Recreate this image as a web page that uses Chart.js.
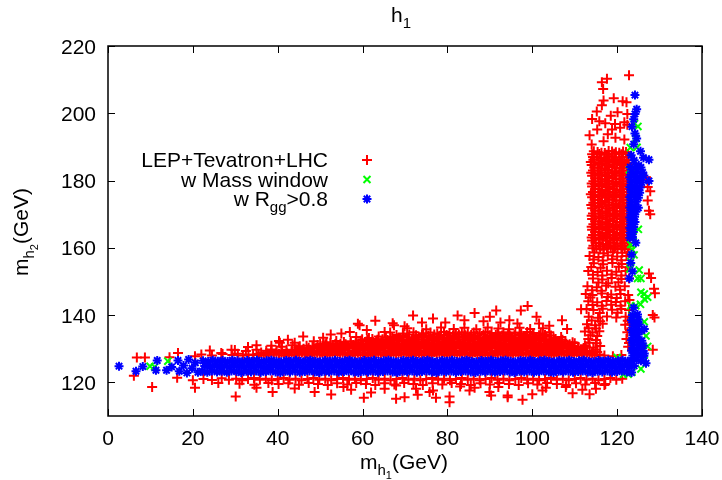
<!DOCTYPE html>
<html lang="en">
<head>
<meta charset="UTF-8" />
<title>h1 - m_h1 vs m_h2</title>
<script src="https://cdn.jsdelivr.net/npm/chart.js"></script>
<style>
  html, body { margin: 0; padding: 0; background: #fff; }
  #wrap { width: 722px; height: 480px; }
</style>
</head>
<body>
<div id="wrap"><canvas id="scanChart" width="722" height="480"></canvas></div>
<script>
// axes
const xTicks = [0, 20, 40, 60, 80, 100, 120, 140];
const yTicks = [120, 140, 160, 180, 200, 220];
const xRange = [0, 140];
const yRange = [110, 220];

// legend labels: [text, level] (0 = normal, 1 = subscript)
const legendLabels = [
  [["LEP+Tevatron+LHC", 0]],
  [["w Mass window", 0]],
  [["w R", 0], ["gg", 1], [">0.8", 0]]
];

// LEP+Tevatron+LHC (red +), upper edge of the band
const lepBandUpper = [
  [22,128.3],[24.5,128.0],[27,128.4],[29.3,128.1],[30.6,128.5],[31.8,128.0],[33.1,128.3],[34.2,128.1],[35.5,128.4],[36.7,128.0],
  [37.9,128.3],[39.1,128.2],[40.3,128.5],[41.5,128.0],[42.7,128.3],[43.9,128.1],[45.1,128.4],[46.3,128.2],[47.5,128.0],[48.7,128.4],
  [49.9,128.2],[51.1,128.0],[52.3,128.3],[53.5,128.1],[54.7,128.5],[55.9,128.2],[57.1,128.0],[58.3,128.4],[59.5,128.1],[60.7,128.3],
  [61.9,128.0],[63.1,128.4],[64.3,128.2],[65.5,128.0],[66.7,128.3],[67.9,128.1],[69.1,128.5],[70.3,128.2],[71.5,128.0],[72.7,128.4],
  [73.9,128.1],[75.1,128.3],[76.3,128.0],[77.5,128.4],[78.7,128.2],[79.9,128.0],[81.1,128.3],[82.3,128.1],[83.5,128.5],[84.7,128.2],
  [85.9,128.0],[87.1,128.4],[88.3,128.1],[89.5,128.3],[90.7,128.0],[91.9,128.4],[93.1,128.2],[94.3,128.0],[95.5,128.3],[96.7,128.1],
  [97.9,128.5],[99.1,128.2],[100.3,128.0],[101.5,128.4],[102.7,128.1],[103.9,128.3],[105.1,128.0],[106.3,128.4],[107.5,128.2],[108.7,128.0],
  [109.9,128.3],[111.1,128.1],[112.3,128.4],[113.5,128.2],[114.7,128.0],[115.9,128.3],[117,128.0],[119,127.8],[121,128.1],
  [29.9,129.6],[32.5,129.3],[35,129.7],[37.3,129.4],[38.5,129.8],[39.7,129.5],[40.9,129.3],[42.1,129.7],[43.3,129.4],[44.5,129.6],
  [45.7,129.3],[46.9,129.8],[48.1,129.5],[49.3,129.3],[50.5,129.7],[51.7,129.4],[52.9,129.6],[54.1,129.3],[55.3,129.8],[56.5,129.5],
  [57.7,129.3],[58.9,129.7],[60.1,129.4],[61.3,129.6],[62.5,129.3],[63.7,129.8],[64.9,129.5],[66.1,129.3],[67.3,129.7],[68.5,129.4],
  [69.7,129.6],[70.9,129.3],[72.1,129.8],[73.3,129.5],[74.5,129.3],[75.7,129.7],[76.9,129.4],[78.1,129.6],[79.3,129.3],[80.5,129.8],
  [81.7,129.5],[82.9,129.3],[84.1,129.7],[85.3,129.4],[86.5,129.6],[87.7,129.3],[88.9,129.8],[90.1,129.5],[91.3,129.3],[92.5,129.7],
  [93.7,129.4],[94.9,129.6],[96.1,129.3],[97.3,129.8],[98.5,129.5],[99.7,129.3],[100.9,129.7],[102.1,129.4],[103.3,129.6],[104.5,129.3],
  [105.7,129.8],[106.9,129.5],[108.1,129.3],[109.3,129.7],[110.5,129.4],[111.7,129.6],[113.5,129.3],[114.9,129.7],
  [38.5,130.9],[41,130.6],[43.5,131.0],[45.2,130.7],[46.8,130.9],[48.2,130.6],[49.4,131.1],[50.6,130.8],[51.8,130.6],[53,131.0],
  [54.2,130.7],[55.4,130.9],[56.6,130.6],[57.8,131.1],[59,130.8],[60.2,130.6],[61.4,131.0],[62.6,130.7],[63.8,130.9],[65,130.6],
  [66.2,131.1],[67.4,130.8],[68.6,130.6],[69.8,131.0],[71,130.7],[72.2,130.9],[73.4,130.6],[74.6,131.1],[75.8,130.8],[77,130.6],
  [78.2,131.0],[79.4,130.7],[80.6,130.9],[81.8,130.6],[83,131.1],[84.2,130.8],[85.4,130.6],[86.6,131.0],[87.8,130.7],[89,130.9],
  [90.2,130.6],[91.4,131.1],[92.6,130.8],[93.8,130.6],[95,131.0],[96.2,130.7],[97.4,130.9],[98.6,130.6],[99.8,131.1],[101,130.8],
  [102.2,130.6],[103.4,131.0],[104.6,130.7],[105.8,130.9],[107,130.6],[108.2,131.1],[109.4,130.8],[110.8,130.6],[112.4,131.0],
  [48.5,132.2],[51.5,131.9],[53.8,132.3],[55.6,132.0],[57.2,132.2],[58.4,131.9],[59.6,132.4],[60.8,132.1],[62,131.9],[63.2,132.3],
  [64.4,132.0],[65.6,132.2],[66.8,131.9],[68,132.4],[69.2,132.1],[70.4,131.9],[71.6,132.3],[72.8,132.0],[74,132.2],[75.2,131.9],
  [76.4,132.4],[77.6,132.1],[78.8,131.9],[80,132.3],[81.2,132.0],[82.4,132.2],[83.6,131.9],[84.8,132.4],[86,132.1],[87.2,131.9],
  [88.4,132.3],[89.6,132.0],[90.8,132.2],[92,131.9],[93.2,132.4],[94.4,132.1],[95.6,131.9],[96.8,132.3],[98,132.0],[99.2,132.2],
  [100.4,131.9],[101.6,132.4],[102.8,132.1],[104,131.9],[105.2,132.3],[106.4,132.0],[107.8,132.2],[109.5,131.9],
  [58.5,133.5],[61.5,133.2],[63.8,133.6],[65.5,133.3],[67,133.5],[68.4,133.2],[69.6,133.7],[70.8,133.4],[72,133.2],[73.2,133.6],
  [74.4,133.3],[75.6,133.5],[76.8,133.2],[78,133.7],[79.2,133.4],[80.4,133.2],[81.6,133.6],[82.8,133.3],[84,133.5],[85.2,133.2],
  [86.4,133.7],[87.6,133.4],[88.8,133.2],[90,133.6],[91.2,133.3],[92.4,133.5],[93.6,133.2],[94.8,133.7],[96,133.4],[97.2,133.2],
  [98.4,133.6],[99.6,133.3],[100.8,133.5],[102,133.2],[103.4,133.6],[105,133.3],[106.8,133.5],
  [66.5,134.8],[69.5,134.5],[72,134.9],[74.3,134.6],[76,134.8],[77.6,134.5],[79.2,135.0],[80.5,134.7],[82,134.5],[83.4,134.9],
  [84.8,134.6],[86.2,134.8],[87.6,134.5],[89,135.0],[90.4,134.7],[91.8,134.5],[93.2,134.9],[94.6,134.6],[96,134.8],[97.4,134.5],
  [98.8,135.0],[100.3,134.7],[102,134.5],[104,134.9],
  [70.5,136.1],[75,135.8],[78.5,136.3],[81.5,135.9],[84,136.2],[86.8,135.8],[89.5,136.3],[92,136.0],[94.5,135.8],[97,136.2],
  [99.5,135.9],[102.5,136.1]
];

// LEP+Tevatron+LHC, points filling the dense part above the band
const lepBandFill = [
  [36.1,128.9],[37.3,128.7],[38.5,129.0],[39.7,128.8],[40.9,128.9],[42.1,128.7],[43.3,129.0],[44.5,128.8],[45.7,128.9],[46.9,128.7],
  [48.1,129.0],[49.3,128.8],[50.5,128.9],[51.7,128.7],[52.9,129.0],[54.1,128.8],[55.3,128.9],[56.5,128.7],[57.7,129.0],[58.9,128.8],
  [60.1,128.9],[61.3,128.7],[62.5,129.0],[63.7,128.8],[64.9,128.9],[66.1,128.7],[67.3,129.0],[68.5,128.8],[69.7,128.9],[70.9,128.7],
  [72.1,129.0],[73.3,128.8],[74.5,128.9],[75.7,128.7],[76.9,129.0],[78.1,128.8],[79.3,128.9],[80.5,128.7],[81.7,129.0],[82.9,128.8],
  [84.1,128.9],[85.3,128.7],[86.5,129.0],[87.7,128.8],[88.9,128.9],[90.1,128.7],[91.3,129.0],[92.5,128.8],[93.7,128.9],[94.9,128.7],
  [96.1,129.0],[97.3,128.8],[98.5,128.9],[99.7,128.7],[100.9,129.0],[102.1,128.8],[103.3,128.9],[104.5,128.7],[105.7,129.0],[106.9,128.8],
  [108.1,128.9],[109.3,128.7],[110.5,129.0],[111.7,128.8],[112.9,128.9],[114.1,128.7],[115.3,129.0],
  [44.9,130.2],[46.1,130.0],[47.3,130.3],[48.5,130.1],[49.7,130.2],[50.9,130.0],[52.1,130.3],[53.3,130.1],[54.5,130.2],[55.7,130.0],
  [56.9,130.3],[58.1,130.1],[59.3,130.2],[60.5,130.0],[61.7,130.3],[62.9,130.1],[64.1,130.2],[65.3,130.0],[66.5,130.3],[67.7,130.1],
  [68.9,130.2],[70.1,130.0],[71.3,130.3],[72.5,130.1],[73.7,130.2],[74.9,130.0],[76.1,130.3],[77.3,130.1],[78.5,130.2],[79.7,130.0],
  [80.9,130.3],[82.1,130.1],[83.3,130.2],[84.5,130.0],[85.7,130.3],[86.9,130.1],[88.1,130.2],[89.3,130.0],[90.5,130.3],[91.7,130.1],
  [92.9,130.2],[94.1,130.0],[95.3,130.3],[96.5,130.1],[97.7,130.2],[98.9,130.0],[100.1,130.3],[101.3,130.1],[102.5,130.2],[103.7,130.0],
  [104.9,130.3],[106.1,130.1],[107.3,130.2],[108.5,130.0],[109.7,130.3],[110.9,130.1],[112.1,130.2],
  [50.0,131.5],[51.2,131.3],[52.4,131.6],[53.6,131.4],[54.8,131.5],[56.0,131.3],[57.2,131.6],[58.4,131.4],[59.6,131.5],[60.8,131.3],
  [62.0,131.6],[63.2,131.4],[64.4,131.5],[65.6,131.3],[66.8,131.6],[68.0,131.4],[69.2,131.5],[70.4,131.3],[71.6,131.6],[72.8,131.4],
  [74.0,131.5],[75.2,131.3],[76.4,131.6],[77.6,131.4],[78.8,131.5],[80.0,131.3],[81.2,131.6],[82.4,131.4],[83.6,131.5],[84.8,131.3],
  [86.0,131.6],[87.2,131.4],[88.4,131.5],[89.6,131.3],[90.8,131.6],[92.0,131.4],[93.2,131.5],[94.4,131.3],[95.6,131.6],[96.8,131.4],
  [98.0,131.5],[99.2,131.3],[100.4,131.6],[101.6,131.4],[102.8,131.5],[104.0,131.3],[105.2,131.6],[106.4,131.4],[107.6,131.5],[108.8,131.3],
  [110.0,131.6],
  [59.9,132.8],[61.1,132.6],[62.3,132.9],[63.5,132.7],[64.7,132.8],[65.9,132.6],[67.1,132.9],[68.3,132.7],[69.5,132.8],[70.7,132.6],
  [71.9,132.9],[73.1,132.7],[74.3,132.8],[75.5,132.6],[76.7,132.9],[77.9,132.7],[79.1,132.8],[80.3,132.6],[81.5,132.9],[82.7,132.7],
  [83.9,132.8],[85.1,132.6],[86.3,132.9],[87.5,132.7],[88.7,132.8],[89.9,132.6],[91.1,132.9],[92.3,132.7],[93.5,132.8],[94.7,132.6],
  [95.9,132.9],[97.1,132.7],[98.3,132.8],[99.5,132.6],[100.7,132.9],[101.9,132.7],[103.1,132.8],[104.3,132.6],[105.5,132.9],[107.1,132.7],
  [68.0,134.1],[69.6,133.9],[71.0,134.2],[72.6,134.0],[74.0,134.1],[75.5,133.9],[76.9,134.2],[78.4,134.0],[79.8,134.1],[81.3,133.9],
  [82.7,134.2],[84.2,134.0],[85.6,134.1],[87.1,133.9],[88.5,134.2],[90.0,134.0],[91.4,134.1],[92.9,133.9],[94.3,134.2],[95.8,134.0],
  [97.2,134.1],[98.7,133.9],[100.1,134.2],[101.6,134.0],[103.0,134.1],[104.4,133.9]
];

// LEP+Tevatron+LHC, lower edge of the band
const lepBandLower = [
  [22.5,121.0],[24.5,120.7],[26.8,121.2],[28.5,120.8],[30.2,121.1],[31.6,120.6],[33,121.0],[34.4,121.3],[35.8,120.8],[37.2,121.1],
  [38.6,120.6],[40,121.0],[41.4,121.3],[42.8,120.8],[44.2,121.1],[45.6,120.6],[47,121.0],[48.4,121.3],[49.8,120.8],[51.2,121.1],
  [52.6,120.6],[54,121.0],[55.4,121.3],[56.8,120.8],[58.2,121.1],[59.6,120.6],[61,121.0],[62.4,121.3],[63.8,120.8],[65.2,121.1],
  [66.6,120.6],[68,121.0],[69.4,121.3],[70.8,120.8],[72.2,121.1],[73.6,120.6],[75,121.0],[76.4,121.3],[77.8,120.8],[79.2,121.1],
  [80.6,120.6],[82,121.0],[83.4,121.3],[84.8,120.8],[86.2,121.1],[87.6,120.6],[89,121.0],[90.4,121.3],[91.8,120.8],[93.2,121.1],
  [94.6,120.6],[96,121.0],[97.4,121.3],[98.8,120.8],[100.2,121.1],[101.6,120.6],[103,121.0],[104.4,121.3],[105.8,120.8],[107.2,121.1],
  [108.6,120.6],[110,121.0],[111.4,121.3],[112.8,120.8],[114.2,121.1],[115.6,120.6],[117,121.0],[118.4,121.3],[119.8,120.8],[121.2,121.1],
  [31,119.6],[34.5,119.3],[37.8,119.8],[40.2,119.5],[42.5,119.7],[45,119.3],[47.3,119.8],[49.5,119.5],[51.8,119.2],[54,119.7],
  [56.4,119.4],[58.5,119.8],[60.8,119.5],[63,119.2],[65.2,119.7],[67.5,119.4],[69.8,119.8],[72,119.5],[74.2,119.2],[76.5,119.7],
  [78.8,119.4],[81,119.8],[83.2,119.5],[85.5,119.2],[87.8,119.7],[90,119.4],[92.2,119.8],[94.5,119.5],[96.8,119.2],[99,119.7],
  [101.2,119.4],[103.5,119.8],[105.8,119.5],[108,119.2],[110.3,119.7],[112.5,119.4],[114.8,119.8],[117.2,119.5]
];

// LEP+Tevatron+LHC, scattered points around the band
const lepScatter = [
  [98.9,142.7],[91.5,141.4],[86.4,140.6],[82.4,139.9],[71.9,139.9],[76.6,139],[97.3,141.4],[94.6,138.5],[101.6,137.5],[59.3,137],
  [67.4,137],[69.9,136.7],[50.7,133.3],[42.4,132.7],[40.3,132.3],[57,135],[65.2,135],[58.9,137.4],[40.5,131.8],[29.1,129.7],
  [16.5,128.7],[26.7,128.7],[67.1,137.6],[111.5,141.7],[107,138.5],[108.2,135.9],[6.8,127.4],[8.7,127.4],[20.5,127.8],[63,138.3],
  [88.5,138.2],[79.5,137.8],[104,136.8],[55,134.5],[46,133.6],[35,131],[33,130.5],[24,129.5],[90,139.5],[84,138.5],
  [74,137.8],[96.5,137.5],[101,139.5],[92.5,137.8],[61,135.6],[52.5,134.2],[44,131.8],
  [69.9,115.6],[77.3,115.4],[80.5,114.1],[90.3,116.1],[94.2,115.6],[97.7,114.8],[76.6,117.6],[86.4,118.4],[103.2,118.4],[38.8,117.1],
  [48.7,117.1],[52.6,116.4],[60.3,115.4],[67.9,115.1],[35,118.4],[57.3,117.8],[65.2,118.1],[10.4,118.6],[20.5,118.4],[30.1,115.8],
  [67.9,119.1],[72.6,118.1],[75.8,117.1],[80.5,115.8],[85.2,117.6],[89.9,117.1],[94.2,116.1],[102.4,117.6],[107.9,118.6],[111.8,117.8],
  [115,118.1],[6.1,122],[20,120.6],[44,118.2],[62,117],[83,118.8],[100,116.5],[109.5,116.8],[117,119.2],[113.5,116.5],
  [55.5,118.6],[92,118.6],[73,116.3],[26,119.8],[16.3,121.4],[14.5,127.5]
];

// LEP+Tevatron+LHC, vertical strip near m_h1 ~ 118
const lepStrip = [
  [122.8,211.3],[117.6,210.3],[116.4,209.2],[116.7,207.2],[116.8,203.8],[121.3,203.6],[116.4,202.4],[115.2,200.5],[114.1,198.3],[118.5,199.3],
  [120.1,200.3],[121.7,197.3],[115.3,195.2],[118.8,195.2],[120.7,195.7],[114,190.7],[116.8,191.7],[119.6,192.7],[121.7,192.2],[117.2,197],
  [119.5,196.8],[113.5,193.5],[122.4,199.8],[117.8,193.8],[115.8,197.6],[119.2,204.5],[122.2,203.3],[122.4,196.6],
  [114.5,188.7],[116.3,188.3],[118,188.8],[119.7,188.4],[121.4,188.6],
  [115.2,187.1],[117,186.8],[118.8,187.2],[120.5,186.9],[122.2,187.0],
  [113.8,185.5],[115.6,185.2],[117.4,185.6],[119.1,185.3],[120.9,185.5],[122.4,185.2],
  [114.6,183.9],[116.3,183.6],[118,184.0],[119.8,183.7],[121.5,183.9],
  [113.9,182.3],[115.5,182.0],[117.2,182.4],[118.9,182.1],[120.6,182.3],[122.3,182.0],
  [114.8,180.7],[116.4,180.4],[118.1,180.8],[119.8,180.5],[121.4,180.7],
  [114,179.1],[115.6,178.8],[117.3,179.2],[119,178.9],[120.7,179.1],[122.3,178.8],
  [114.8,177.5],[116.5,177.2],[118.2,177.6],[119.9,177.3],[121.5,177.5],
  [113.8,175.9],[115.6,175.6],[117.3,176.0],[119,175.7],[120.7,175.9],[122.4,175.6],
  [114.7,174.3],[116.4,174.0],[118.1,174.4],[119.8,174.1],[121.5,174.3],
  [113.9,172.7],[115.6,172.4],[117.3,172.8],[119,172.5],[120.7,172.7],[122.3,172.4],
  [114.8,171.1],[116.5,170.8],[118.2,171.2],[119.9,170.9],[121.6,171.1],
  [114,169.5],[115.7,169.2],[117.4,169.6],[119.1,169.3],[120.8,169.5],[122.4,169.2],
  [114.8,167.9],[116.5,167.6],[118.2,168.0],[119.9,167.7],[121.6,167.9],
  [114,166.3],[115.7,166.0],[117.4,166.4],[119.1,166.1],[120.8,166.3],[122.4,166.0],
  [114.8,164.7],[116.5,164.4],[118.2,164.8],[119.9,164.5],[121.6,164.7],
  [114,163.1],[115.7,162.8],[117.4,163.2],[119.1,162.9],[120.8,163.1],[122.4,162.8],
  [114.9,161.5],[116.6,161.2],[118.3,161.6],[120,161.3],[121.7,161.5],
  [114.2,159.9],[116,159.6],[117.6,160.0],[119.3,159.7],[121,159.9],[122.5,159.6],
  [113.5,157.6],[115.6,157.3],[117.8,157.7],[120,157.4],[122.2,157.6],
  [114.5,155.4],[116.7,155.1],[118.9,155.5],[121.1,155.2],
  [113.2,153.1],[115.4,152.8],[117.6,153.2],[119.8,152.9],[122,153.1],
  [114.3,150.9],[116.5,150.6],[118.7,151.0],[121,150.7],[122.8,150.9],
  [113,148.6],[115.2,148.3],[117.4,148.7],[119.6,148.4],[121.8,148.6],
  [112.6,146.3],[114.2,146.0],[116.4,146.4],[118.6,146.1],[120.8,146.3],[122.6,146.0],
  [113.2,144.1],[115.3,143.8],[117.5,144.2],[119.7,143.9],[121.9,144.1],
  [112.8,141.8],[114.4,141.5],[116.6,141.9],[118.8,141.6],[121,141.8],[122.8,141.5],
  [113.3,139.5],[115.5,139.2],[117.6,139.6],[119.8,139.3],[122,139.5],
  [112.9,137.3],[114.8,137.0],[116.6,137.4],[121.9,137.1],[123,137.3],
  [112.4,135.1],[114.2,134.8],[115.8,135.2],[122.4,134.9],
  [113.2,132.9],[115,132.6],[122.2,132.9],
  [112.6,130.7],[114.4,130.4],[116,130.8],[122.6,130.6],
  [127.8,176.8],[127.2,178.1],[127.2,174.1],[127.5,171],[127.5,152.4],[128.7,147.8],[128.4,140],[128.8,139.3],[128.4,129.7],[128,151],
  [128.9,146.5],[126.8,181],[127.8,170]
];

// LEP+Tevatron+LHC, points filling the dense part of the strip
const lepStripFill = [
  [115.4,188.5],[117.1,188.2],[118.8,188.6],[120.5,188.3],[122.1,188.5],
  [114.3,187.0],[116.1,186.7],[117.9,187.1],[119.6,186.8],[121.3,187.0],
  [114.7,185.4],[116.5,185.1],[118.2,185.5],[120,185.2],[121.7,185.4],
  [115.4,183.8],[117.1,183.5],[118.9,183.9],[120.6,183.6],[122.3,183.8],
  [114.7,182.2],[116.3,181.9],[118,182.3],[119.7,182],[121.4,182.2],
  [115.6,180.6],[117.2,180.3],[118.9,180.7],[120.6,180.4],[122.2,180.6],
  [114.8,179.0],[116.4,178.7],[118.1,179.1],[119.8,178.8],[121.5,179.0],
  [115.6,177.4],[117.3,177.1],[119,177.5],[120.7,177.2],[122.3,177.4],
  [114.7,175.8],[116.4,175.5],[118.1,175.9],[119.8,175.6],[121.5,175.8],
  [115.5,174.2],[117.2,173.9],[118.9,174.3],[120.6,174],[122.2,174.2],
  [114.7,172.6],[116.4,172.3],[118.1,172.7],[119.8,172.4],[121.5,172.6],
  [115.6,171.0],[117.3,170.7],[119,171.1],[120.7,170.8],[122.3,171.0],
  [114.8,169.4],[116.5,169.1],[118.2,169.5],[119.9,169.2],[121.6,169.4],
  [115.6,167.8],[117.3,167.5],[119,167.9],[120.7,167.6],[122.3,167.8],
  [114.8,166.2],[116.5,165.9],[118.2,166.3],[119.9,166],[121.6,166.2],
  [115.6,164.6],[117.3,164.3],[119,164.7],[120.7,164.4],[122.3,164.6],
  [114.8,163.0],[116.5,162.7],[118.2,163.1],[119.9,162.8],[121.6,163.0],
  [115.7,161.4],[117.4,161.1],[119.1,161.5],[120.8,161.2],[122.4,161.4],
  [115.1,159.8],[116.8,159.5],[118.5,159.9],[120.1,159.6],[121.8,159.8],
  [114.4,156.5],[116.6,156.2],[118.8,156.6],[121,156.3],[114.3,152],[116.5,151.8],[118.7,152.1],[121,151.8],
  [114.1,147.4],[116.3,147.2],[120.7,147.5],[114.2,143],[116.4,142.8],[118.6,143.1],[120.8,142.8],[122.9,144.5],
  [114,138.4],[116,138.2],[122.5,138.3],[113.3,136.1],[115,136],[113.5,131.8],[115.2,131.6],[122.8,131.7],
  [113.7,134],[115.3,133.8],[123,135.6]
];

// LEP+Tevatron+LHC, extra points between the strip rows
const lepStripMid = [
  [114.1,187.8],[115.8,187.9],[117.6,187.7],[119.3,188.0],[121.0,187.8],[122.6,187.9],
  [114.4,186.2],[116.2,186.0],[117.8,186.3],[119.5,186.1],[121.2,186.2],[122.7,186.0],
  [114.0,184.6],[115.9,184.8],[117.6,184.5],[119.4,184.7],[121.1,184.6],[122.6,184.8],
  [114.3,183.0],[116.0,182.9],[117.8,183.1],[119.5,182.8],[121.2,183.0],[122.7,182.9],
  [114.1,181.4],[115.9,181.6],[117.6,181.3],[119.3,181.5],[121.0,181.4],[122.6,181.6],
  [114.4,179.8],[116.1,179.7],[117.9,179.9],[119.6,179.6],[121.3,179.8],[122.7,179.7],
  [114.1,178.2],[115.8,178.4],[117.6,178.1],[119.3,178.3],[121.0,178.2],[122.6,178.4],
  [114.3,176.6],[116.0,176.5],[117.8,176.7],[119.5,176.4],[121.2,176.6],[122.7,176.5],
  [114.1,175.0],[115.9,175.2],[117.6,174.9],[119.3,175.1],[121.0,175.0],[122.6,175.2],
  [114.4,173.4],[116.1,173.3],[117.9,173.5],[119.6,173.2],[121.3,173.4],[122.7,173.3],
  [114.1,171.8],[115.8,172.0],[117.6,171.7],[119.3,171.9],[121.0,171.8],[122.6,172.0],
  [114.3,170.2],[116.0,170.1],[117.8,170.3],[119.5,170.0],[121.2,170.2],[122.7,170.1],
  [114.1,168.6],[115.9,168.8],[117.6,168.5],[119.3,168.7],[121.0,168.6],[122.6,168.8],
  [114.4,167.0],[116.1,166.9],[117.9,167.1],[119.6,166.8],[121.3,167.0],[122.7,166.9],
  [114.1,165.4],[115.8,165.6],[117.6,165.3],[119.3,165.5],[121.0,165.4],[122.6,165.6],
  [114.3,163.8],[116.0,163.7],[117.8,163.9],[119.5,163.6],[121.2,163.8],[122.7,163.7],
  [114.1,162.2],[115.9,162.4],[117.6,162.1],[119.3,162.3],[121.0,162.2],[122.6,162.4],
  [114.4,160.6],[116.1,160.5],[117.9,160.7],[119.6,160.4],[121.3,160.6],[122.7,160.5],
  [114.6,158.6],[116.8,158.4],[119.0,158.7],[121.2,158.5],[113.9,154.3],[116.1,154.1],[120.4,154.4],[122.5,154.2],
  [115.6,149.7],[117.9,149.5],[120.3,149.8],[113.7,145.2],[117.8,145.4],[119.9,145.1],[115.9,140.6],[120.1,140.7]
];

// w Mass window (green x)
const massWindowPts = [
  [124.1,196.9],[124.9,196.1],[123.1,189.8],[124.7,189.9],[122.9,183.2],[123.9,182.6],[123.2,161],[123.6,159.4],[124,157.9],[123.2,155.9],
  [123,153.7],[124.8,150.9],[125.6,150.9],[125.2,153.4],[125.6,146.8],[126.4,144.8],[123.2,142.8],[124.4,142.8],[126.4,146.3],[127.2,145.3],
  [125.5,143.2],[123.5,140],[126.4,138],[126.8,133.8],[127.2,130.7],[126.4,126.5],[123.5,123],[122.6,122.4],[9.9,124.8],[11,124.6],
  [14.1,126.3],[124.4,192.5],[125,165.5],[123.8,163.5],[124.6,129],[125.6,124],[121.5,122.4],[120,127.4]
];

// w R_gg>0.8 (blue *), low-mass tail
const rggLeft = [
  [2.6,124.8],[6.6,123.3],[8.2,124.7],[11.6,126.5],[11.3,123.6],[13.8,123.6],[15,124.6],[16.5,126.5],[16.8,123.3],[17.8,125],
  [18.6,122.8],[19,126.8],[19.8,124.2],[20.6,125.8],[21.2,123]
];

// w R_gg>0.8, dense band at m_h2 ~ 125
const rggBand = [
  [22.2,123.3],[23.4,123.0],[24.5,123.4],[25.7,123.1],[26.8,123.3],[28.0,123.0],[29.1,123.4],[30.3,123.2],[31.4,122.9],[32.6,123.3],
  [33.7,123.1],[34.9,123.4],[36.0,123.0],[37.2,123.2],[38.3,123.4],[39.5,123.1],[40.6,122.9],[41.8,123.3],[42.9,123.1],[44.1,123.4],
  [45.2,123.0],[46.4,123.2],[47.5,123.4],[48.7,123.1],[49.8,122.9],[51.0,123.3],[52.1,123.1],[53.3,123.4],[54.4,123.0],[55.6,123.2],
  [56.7,123.4],[57.9,123.1],[59.0,122.9],[60.2,123.3],[61.3,123.1],[62.5,123.4],[63.6,123.0],[64.8,123.2],[65.9,123.4],[67.1,123.1],
  [68.2,122.9],[69.4,123.3],[70.5,123.1],[71.7,123.4],[72.8,123.0],[74.0,123.2],[75.1,123.4],[76.3,123.1],[77.4,122.9],[78.6,123.3],
  [79.7,123.1],[80.9,123.4],[82.0,123.0],[83.2,123.2],[84.3,123.4],[85.5,123.1],[86.6,122.9],[87.8,123.3],[88.9,123.1],[90.1,123.4],
  [91.2,123.0],[92.4,123.2],[93.5,123.4],[94.7,123.1],[95.8,122.9],[97.0,123.3],[98.1,123.1],[99.3,123.4],[100.4,123.0],[101.6,123.2],
  [102.7,123.4],[103.9,123.1],[105.0,122.9],[106.2,123.3],[107.3,123.1],[108.5,123.4],[109.6,123.0],[110.8,123.2],[111.9,123.4],[113.1,123.1],
  [114.2,122.9],[115.4,123.3],[116.5,123.1],[117.7,123.4],[118.8,123.0],[120.0,123.2],[121.1,123.4],[122.3,123.1],[123.4,122.9],
  [22.8,124.9],[24.0,124.6],[25.1,125.0],[26.3,124.7],[27.4,124.9],[28.6,124.6],[29.7,125.0],[30.9,124.8],[32.0,124.5],[33.2,124.9],
  [34.3,124.7],[35.5,125.0],[36.6,124.6],[37.8,124.8],[38.9,125.0],[40.1,124.7],[41.2,124.5],[42.4,124.9],[43.5,124.7],[44.7,125.0],
  [45.8,124.6],[47.0,124.8],[48.1,125.0],[49.3,124.7],[50.4,124.5],[51.6,124.9],[52.7,124.7],[53.9,125.0],[55.0,124.6],[56.2,124.8],
  [57.3,125.0],[58.5,124.7],[59.6,124.5],[60.8,124.9],[61.9,124.7],[63.1,125.0],[64.2,124.6],[65.4,124.8],[66.5,125.0],[67.7,124.7],
  [68.8,124.5],[70.0,124.9],[71.1,124.7],[72.3,125.0],[73.4,124.6],[74.6,124.8],[75.7,125.0],[76.9,124.7],[78.0,124.5],[79.2,124.9],
  [80.3,124.7],[81.5,125.0],[82.6,124.6],[83.8,124.8],[84.9,125.0],[86.1,124.7],[87.2,124.5],[88.4,124.9],[89.5,124.7],[90.7,125.0],
  [91.8,124.6],[93.0,124.8],[94.1,125.0],[95.3,124.7],[96.4,124.5],[97.6,124.9],[98.7,124.7],[99.9,125.0],[101.0,124.6],[102.2,124.8],
  [103.3,125.0],[104.5,124.7],[105.6,124.5],[106.8,124.9],[107.9,124.7],[109.1,125.0],[110.2,124.6],[111.4,124.8],[112.5,125.0],[113.7,124.7],
  [114.8,124.5],[116.0,124.9],[117.1,124.7],[118.3,125.0],[119.4,124.6],[120.6,124.8],[121.7,125.0],[122.9,124.7],[124.0,124.9],
  [22.4,126.4],[23.6,126.2],[24.7,126.6],[25.9,126.3],[27.0,126.5],[28.2,126.2],[29.3,126.6],[30.5,126.4],[31.6,126.1],[32.8,126.5],
  [33.9,126.3],[35.1,126.6],[36.2,126.2],[37.4,126.4],[38.5,126.6],[39.7,126.3],[40.8,126.1],[42.0,126.5],[43.1,126.3],[44.3,126.6],
  [45.4,126.2],[46.6,126.4],[47.7,126.6],[48.9,126.3],[50.0,126.1],[51.2,126.5],[52.3,126.3],[53.5,126.6],[54.6,126.2],[55.8,126.4],
  [56.9,126.6],[58.1,126.3],[59.2,126.1],[60.4,126.5],[61.5,126.3],[62.7,126.6],[63.8,126.2],[65.0,126.4],[66.1,126.6],[67.3,126.3],
  [68.4,126.1],[69.6,126.5],[70.7,126.3],[71.9,126.6],[73.0,126.2],[74.2,126.4],[75.3,126.6],[76.5,126.3],[77.6,126.1],[78.8,126.5],
  [79.9,126.3],[81.1,126.6],[82.2,126.2],[83.4,126.4],[84.5,126.6],[85.7,126.3],[86.8,126.1],[88.0,126.5],[89.1,126.3],[90.3,126.6],
  [91.4,126.2],[92.6,126.4],[93.7,126.6],[94.9,126.3],[96.0,126.1],[97.2,126.5],[98.3,126.3],[99.5,126.6],[100.6,126.2],[101.8,126.4],
  [102.9,126.6],[104.1,126.3],[105.2,126.1],[106.4,126.5],[107.5,126.3],[108.7,126.6],[109.8,126.2],[111.0,126.4],[112.1,126.6],[113.3,126.3],
  [114.4,126.1],[115.6,126.5],[116.7,126.3],[117.9,126.6],[119.0,126.2],[120.2,126.4],[121.3,126.6],[122.5,126.3]
];

// w R_gg>0.8, vertical strip at m_h1 ~ 124
const rggStrip = [
  [124.2,205.4],[124.6,201.2],[124.2,199.8],[123.9,198.2],[124.2,194],[123.9,190.8],[125.5,188.7],[127.5,186.2],[125.1,184.5],[127.5,179.9],
  [126.3,181.5],[123.5,196],[124.6,192.5],[123.3,187.5],[126.2,186.8],[124,186],
  [123.1,184],[124.4,184.2],[125.6,183.9],[123.4,182.5],[124.7,182.7],[126,182.4],[123,181],[124.3,181.2],[125.5,180.9],
  [123.3,179.5],[124.6,179.7],[125.8,179.4],[123,178],[124.2,178.2],[125.4,177.9],[123.3,176.5],[124.6,176.7],[125.3,176.4],
  [123,175],[124.3,175.2],[125,174.9],[123.2,173.5],[124.5,173.7],[123,172],[124.2,172.2],[125,171.9],[123.2,170.5],[124.4,170.7],
  [123,169],[124.1,169.2],[123.2,167.5],[124.2,167.7],[123,166],[123.9,166.2],[123.1,164.5],[123.8,164.7],[123,163],[123.6,163.2],
  [122.9,150.9],[123.2,155.5],[123.4,158],[124.4,161.5],[123.6,153],[123.9,142.2],[124.2,137.6],[126.4,135.9],[126.4,128.6],[126.8,125.7],
  [123.6,140],[124.8,140.2],[123.4,138.5],[125,138.7],[123.8,137],[125.2,137.2],[123.4,135.5],[124.6,135.7],[125.8,135.4],
  [123.7,134],[124.9,134.2],[123.4,132.5],[124.6,132.7],[125.8,132.4],[123.7,131],[125,131.2],[126.2,130.9],
  [123.4,129.5],[124.6,129.7],[125.8,129.4],[123.7,128],[124.9,128.2],[126.3,127.9],[123.4,126.5],[124.6,126.7],[125.6,126.4]
];

const toXY = pts => pts.map(([x, y]) => ({ x, y }));

const lepPoints = toXY([].concat(lepBandLower, lepBandUpper, lepBandFill, lepScatter, lepStrip, lepStripFill, lepStripMid));
const massPoints = toXY(massWindowPts);
const rggPoints = toXY([].concat(rggLeft, rggBand, rggStrip));

const RED = "#ff0000", GREEN = "#00ff00", BLUE = "#0000ff";
const FONT = '"Liberation Sans", Arial, Helvetica, sans-serif';
const LEVEL_PX = [21, 15, 11];     // font size per level
const LEVEL_DY = [0, 6, 10];       // baseline shift per level

function richWidth(ctx, parts) {
  let w = 0;
  parts.forEach(([t, lv]) => {
    ctx.font = LEVEL_PX[lv] + "px " + FONT;
    w += ctx.measureText(t).width;
  });
  return w;
}

function drawRich(ctx, parts, x, y, align) {
  const total = richWidth(ctx, parts);
  let cx = align === "right" ? x - total : align === "center" ? x - total / 2 : x;
  parts.forEach(([t, lv]) => {
    ctx.font = LEVEL_PX[lv] + "px " + FONT;
    ctx.fillText(t, cx, y + LEVEL_DY[lv]);
    cx += ctx.measureText(t).width;
  });
}

function drawMarker(ctx, style, x, y, color) {
  ctx.save();
  ctx.strokeStyle = color;
  ctx.lineWidth = 2;
  ctx.beginPath();
  if (style === "cross" || style === "star") {
    const r = style === "star" ? 4.5 : 5;
    ctx.moveTo(x - r, y); ctx.lineTo(x + r, y);
    ctx.moveTo(x, y - r); ctx.lineTo(x, y + r);
  }
  if (style === "crossRot" || style === "star") {
    const d = style === "star" ? 3.2 : 3.5;
    ctx.moveTo(x - d, y - d); ctx.lineTo(x + d, y + d);
    ctx.moveTo(x - d, y + d); ctx.lineTo(x + d, y - d);
  }
  ctx.stroke();
  ctx.restore();
}

// border, inward ticks, labels, title and legend
const framePlugin = {
  id: "frame",
  afterDraw(chart) {
    const ctx = chart.ctx;
    const { left, right, top, bottom } = chart.chartArea;
    const xs = chart.scales.x, ys = chart.scales.y;
    const tick = 7;
    ctx.save();
    ctx.strokeStyle = "#000";
    ctx.lineWidth = 1;
    ctx.beginPath();
    xTicks.forEach(v => {
      const px = Math.round(xs.getPixelForValue(v)) + 0.5;
      ctx.moveTo(px, bottom); ctx.lineTo(px, bottom - tick);
      ctx.moveTo(px, top); ctx.lineTo(px, top + tick);
    });
    yTicks.forEach(v => {
      const py = Math.round(ys.getPixelForValue(v)) + 0.5;
      ctx.moveTo(left, py); ctx.lineTo(left + tick, py);
      ctx.moveTo(right, py); ctx.lineTo(right - tick, py);
    });
    ctx.stroke();
    ctx.lineWidth = 1.5;
    ctx.strokeRect(left, top, right - left, bottom - top);

    ctx.fillStyle = "#000";
    ctx.textBaseline = "alphabetic";
    ctx.font = LEVEL_PX[0] + "px " + FONT;
    ctx.textAlign = "center";
    xTicks.forEach(v => ctx.fillText(String(v), xs.getPixelForValue(v), bottom + 29));
    ctx.textAlign = "right";
    yTicks.forEach(v => ctx.fillText(String(v), left - 12, ys.getPixelForValue(v) + 7.5));
    ctx.textAlign = "left";

    // title
    drawRich(ctx, [["h", 0], ["1", 1]], 401, 22, "center");
    // x axis title
    drawRich(ctx, [["m", 0], ["h", 1], ["1", 2], ["(GeV)", 0]], 404, 469, "center");
    // y axis title (rotated)
    ctx.save();
    ctx.translate(28, 232);
    ctx.rotate(-Math.PI / 2);
    drawRich(ctx, [["m", 0], ["h", 1], ["2", 2], ["(GeV)", 0]], 0, 0, "center");
    ctx.restore();

    // legend
    const styles = ["cross", "crossRot", "star"];
    const colors = [RED, GREEN, BLUE];
    legendLabels.forEach((parts, i) => {
      const by = 167 + i * 19.5;
      drawRich(ctx, parts, 328, by, "right");
      drawMarker(ctx, styles[i], 367, by - 7, colors[i]);
    });
    ctx.restore();
  }
};

new Chart(document.getElementById("scanChart"), {
  type: "scatter",
  data: {
    datasets: [
      { label: "w R_gg>0.8", data: rggPoints, order: 0,
        pointStyle: "star", pointRadius: 4.5, pointHoverRadius: 4.5, pointBorderWidth: 2,
        pointBorderColor: BLUE, pointBackgroundColor: BLUE, borderColor: BLUE },
      { label: "w Mass window", data: massPoints, order: 1,
        pointStyle: "crossRot", pointRadius: 5, pointHoverRadius: 5, pointBorderWidth: 2,
        pointBorderColor: GREEN, pointBackgroundColor: GREEN, borderColor: GREEN },
      { label: "LEP+Tevatron+LHC", data: lepPoints, order: 2,
        pointStyle: "cross", pointRadius: 5, pointHoverRadius: 5, pointBorderWidth: 2,
        pointBorderColor: RED, pointBackgroundColor: RED, borderColor: RED }
    ]
  },
  options: {
    responsive: false,
    animation: false,
    events: [],
    layout: { padding: { left: 108, right: 20, top: 46, bottom: 64 } },
    plugins: { legend: { display: false }, tooltip: { enabled: false } },
    scales: {
      x: { type: "linear", min: xRange[0], max: xRange[1], display: false },
      y: { type: "linear", min: yRange[0], max: yRange[1], display: false }
    }
  },
  plugins: [framePlugin]
});
</script>
</body>
</html>
